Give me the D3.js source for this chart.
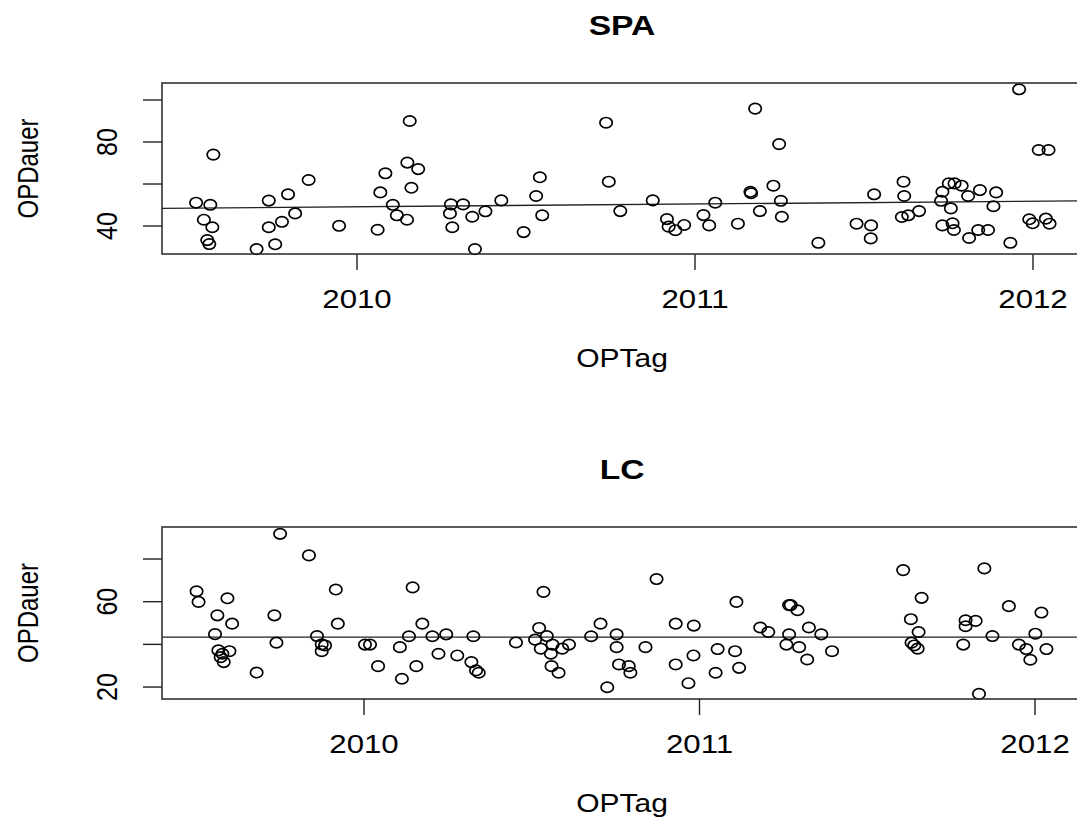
<!DOCTYPE html>
<html>
<head>
<meta charset="utf-8">
<script src="https://cdn.jsdelivr.net/npm/d3@7"></script>
<style>
  body { margin: 0; background: #fff; }
  text { font-family: "Liberation Sans", Arial, sans-serif; fill: #000; }
</style>
</head>
<body>
<div id="chart"></div>
<script>
// SPA: OP date (decimal year) and OP duration
const spaYear = [2009.524, 2009.566, 2009.575, 2009.547, 2009.572, 2009.557, 2009.563, 2009.703, 2009.758, 2009.739,
  2009.739, 2009.778, 2009.796, 2009.817, 2009.857, 2009.947, 2010.061, 2010.069, 2010.084, 2010.106,
  2010.118, 2010.148, 2010.149, 2010.181, 2010.161, 2010.156, 2010.278, 2010.275, 2010.282, 2010.314,
  2010.341, 2010.380, 2010.427, 2010.349, 2010.493, 2010.530, 2010.541, 2010.548, 2010.737, 2010.745,
  2010.779, 2010.875, 2010.917, 2010.922, 2010.942, 2010.968, 2011.025, 2011.042, 2011.060, 2011.127,
  2011.164, 2011.166, 2011.178, 2011.192, 2011.249, 2011.232, 2011.254, 2011.257, 2011.365, 2011.530,
  2011.478, 2011.521, 2011.520, 2011.617, 2011.619, 2011.612, 2011.631, 2011.663, 2011.732, 2011.728,
  2011.757, 2011.751, 2011.768, 2011.789, 2011.808, 2011.732, 2011.762, 2011.766, 2011.811, 2011.843,
  2011.891, 2011.883, 2011.838, 2011.867, 2011.933, 2011.959, 2012.017, 2012.046, 2011.989, 2011.999,
  2012.038, 2012.049];
const spaDauer = [51.1, 50.1, 74, 43, 39.4, 33.3, 31.4, 29, 31.3, 39.4,
  52.1, 42, 55.1, 46, 61.9, 40.1, 38.2, 56, 65.1, 50.1,
  45.1, 43, 70.2, 67.1, 58.2, 90, 50.3, 46, 39.4, 50.3,
  44.4, 47, 52.2, 29, 37.1, 54.3, 63.2, 45.1, 89.2, 61.1,
  47.1, 52.2, 43.3, 39.7, 38, 40.5, 45.2, 40.3, 51.1, 41.1,
  56.3, 55.6, 95.9, 47.1, 79, 59.2, 52, 44.4, 32, 55.1,
  41.1, 40.3, 34.1, 61.1, 54.3, 44.3, 45.1, 47.1, 56.3, 52,
  48.4, 60.3, 60.3, 59.2, 54.3, 40.3, 41.3, 38.1, 34.3, 57.1,
  56, 49.4, 38.1, 38.1, 32, 105.1, 76.2, 76.2, 43.2, 41.3,
  43.5, 41.1];

// LC
const lcYear = [2009.750, 2009.836, 2009.501, 2009.507, 2009.593, 2009.563, 2009.607, 2009.556, 2009.566, 2009.578,
  2009.573, 2009.582, 2009.599, 2009.680, 2009.733, 2009.739, 2009.916, 2009.922, 2009.860, 2009.874,
  2009.884, 2009.874, 2010.003, 2010.018, 2010.145, 2010.174, 2010.134, 2010.107, 2010.042, 2010.113,
  2010.156, 2010.204, 2010.245, 2010.222, 2010.278, 2010.326, 2010.320, 2010.334, 2010.342, 2010.535,
  2010.453, 2010.522, 2010.510, 2010.545, 2010.527, 2010.562, 2010.557, 2010.591, 2010.611, 2010.559,
  2010.580, 2010.677, 2010.705, 2010.753, 2010.753, 2010.725, 2010.760, 2010.789, 2010.794, 2010.839,
  2010.872, 2010.929, 2010.983, 2010.929, 2010.982, 2010.967, 2011.110, 2011.054, 2011.106, 2011.048,
  2011.118, 2011.181, 2011.205, 2011.267, 2011.272, 2011.292, 2011.267, 2011.326, 2011.363, 2011.259,
  2011.297, 2011.395, 2011.321, 2011.607, 2011.662, 2011.630, 2011.653, 2011.632, 2011.640, 2011.650,
  2011.849, 2011.922, 2012.019, 2011.793, 2011.823, 2011.793, 2011.873, 2011.786, 2012.001, 2011.952,
  2011.974, 2011.986, 2012.034, 2011.833];
const lcDauer = [91.8, 81.7, 64.9, 59.9, 61.6, 53.6, 49.7, 44.8, 37.2, 35.6,
  34, 31.7, 36.8, 26.8, 53.6, 40.8, 65.7, 49.7, 43.9, 40,
  39.5, 36.8, 39.9, 39.9, 66.7, 49.7, 43.8, 38.7, 29.8, 23.9,
  29.8, 43.8, 44.7, 35.6, 34.8, 43.8, 31.7, 27.8, 26.7, 64.6,
  40.9, 47.7, 42.2, 43.9, 38, 39.9, 35.6, 38, 39.9, 29.8,
  26.7, 43.8, 49.7, 44.7, 38.7, 19.9, 30.6, 29.8, 26.7, 38.7,
  70.6, 49.7, 48.8, 30.6, 34.8, 21.8, 59.9, 37.8, 36.8, 26.7,
  29, 47.9, 45.8, 58.4, 58.4, 56, 44.7, 47.9, 44.7, 39.9,
  38.7, 36.8, 32.9, 74.8, 61.8, 51.8, 45.8, 40.8, 39.5, 38,
  75.6, 57.9, 54.9, 51.3, 51, 48.5, 43.9, 39.9, 45, 39.9,
  37.8, 32.8, 37.8, 16.8];

// fitted lines (abline), value at left and right edge
const spaFitYear = [2009.423, 2012.145];
const spaFitDauer = [48.4, 52.0];
const lcFitYear = [2009.398, 2012.140];
const lcFitDauer = [43.4, 43.4];

// axes
const xTicks = [2010, 2011, 2012];
const spaYTicks = [40, 60, 80, 100];
const spaYLabels = [40, 80];
const lcYTicks = [20, 40, 60, 80];
const lcYLabels = [20, 60];

const W = 1077, H = 818;
const left = 162, right = 1082;
const sx = 1.2; // the picture is stretched horizontally

const svg = d3.select("#chart").append("svg")
  .attr("width", W).attr("height", H);

const panels = [
  { title: "SPA", years: spaYear, vals: spaDauer, fitY: spaFitYear, fitV: spaFitDauer,
    yTicks: spaYTicks, yLabels: spaYLabels, top: 83, bottom: 254,
    xDomain: [2009.4231, 2012.145], yDomain: [26.67, 108.1], titleY: 35 },
  { title: "LC", years: lcYear, vals: lcDauer, fitY: lcFitYear, fitV: lcFitDauer,
    yTicks: lcYTicks, yLabels: lcYLabels, top: 527, bottom: 699,
    xDomain: [2009.398, 2012.140], yDomain: [14.4, 95.0], titleY: 479 }
];

panels.forEach(p => {
  const x = d3.scaleLinear().domain(p.xDomain).range([left, right]);
  const y = d3.scaleLinear().domain(p.yDomain).range([p.bottom, p.top]);
  const g = svg.append("g");
  const mid = (left + right) / 2;

  // fitted line
  g.append("path")
    .attr("d", d3.line()(p.fitY.map((v, i) => [x(v), y(p.fitV[i])])))
    .attr("fill", "none")
    .attr("stroke", "#222")
    .attr("stroke-width", 1.4);

  // points
  g.selectAll("ellipse")
    .data(p.years.map((v, i) => ({ yr: v, val: p.vals[i] })))
    .enter()
    .append("ellipse")
    .attr("cx", d => x(d.yr))
    .attr("cy", d => y(d.val))
    .attr("rx", 6.2)
    .attr("ry", 5.2)
    .attr("fill", "none")
    .attr("stroke", "#000")
    .attr("stroke-width", 1.7);

  // box
  g.append("rect")
    .attr("x", left).attr("y", p.top)
    .attr("width", right - left).attr("height", p.bottom - p.top)
    .attr("fill", "none")
    .attr("stroke", "#333")
    .attr("stroke-width", 1.6);

  // x axis
  g.selectAll(".xt").data(xTicks).enter().append("line")
    .attr("x1", d => x(d)).attr("x2", d => x(d))
    .attr("y1", p.bottom).attr("y2", p.bottom + 16)
    .attr("stroke", "#222").attr("stroke-width", 1.4);
  g.selectAll(".xl").data(xTicks).enter().append("text")
    .attr("transform", d => `translate(${x(d)},${p.bottom + 54}) scale(${sx},1)`)
    .attr("text-anchor", "middle")
    .style("font-size", "26px")
    .text(d => d);

  // y axis
  g.selectAll(".yt").data(p.yTicks).enter().append("line")
    .attr("x1", left - 19).attr("x2", left)
    .attr("y1", d => y(d)).attr("y2", d => y(d))
    .attr("stroke", "#222").attr("stroke-width", 1.4);
  g.selectAll(".yl").data(p.yLabels).enter().append("text")
    .attr("transform", d => `translate(117,${y(d)}) scale(${sx},1) rotate(-90)`)
    .attr("text-anchor", "middle")
    .style("font-size", "25px")
    .text(d => d);

  // axis titles
  g.append("text")
    .attr("transform", `translate(${mid},${p.bottom + 113}) scale(${sx},1)`)
    .attr("text-anchor", "middle")
    .style("font-size", "25px")
    .text("OPTag");
  g.append("text")
    .attr("transform", `translate(38,${(p.top + p.bottom) / 2}) scale(${sx},1) rotate(-90)`)
    .attr("text-anchor", "middle")
    .style("font-size", "24px")
    .text("OPDauer");

  // title
  g.append("text")
    .attr("transform", `translate(${mid},${p.titleY}) scale(${sx},1)`)
    .attr("text-anchor", "middle")
    .style("font-size", "28px")
    .style("font-weight", "bold")
    .text(p.title);
});
</script>
</body>
</html>
